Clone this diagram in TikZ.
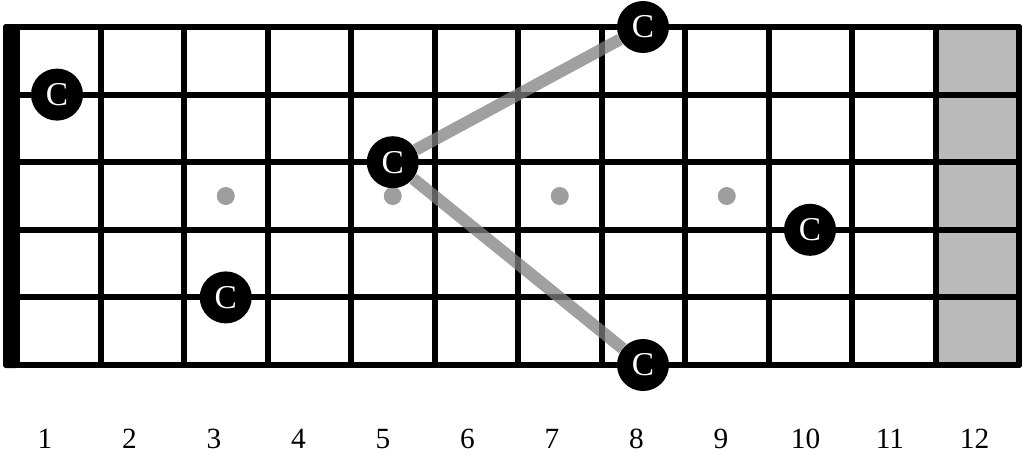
\documentclass[tikz,border=0pt]{standalone}
\usepackage{fontspec}
\setmainfont{Liberation Serif}
\tikzset{
  fretline/.style={line width=4.5pt, line cap=round},
  note/.style={circle, fill=black, text=white, minimum size=39pt, inner sep=0pt,
    font=\fontsize{25}{25}\selectfont},
  marker/.style={circle, fill=black!38, minimum size=13.5pt, inner sep=0pt},
  link/.style={draw=black!50, opacity=.75, line width=9pt},
  fretnum/.style={inner sep=0pt, font=\fontsize{22}{22}\selectfont}
}
\begin{document}
\begin{tikzpicture}[x=0.75pt,y=0.75pt,yscale=-1,xscale=1]
            \useasboundingbox (0,0) rectangle (1024,457);
            \fill[black!27] (933.5,27) rectangle (1019,365);
            \foreach \y in {27,94.6,162.2,229.8,297.4,365}
                \draw[fretline] (17,\y) -- (1019,\y);
            \foreach \i in {1,...,11}
                \draw[fretline] ({17+83.5*\i},27) -- ({17+83.5*\i},365);
            \draw[fretline, line join=round] (17,27) rectangle (1019,365);
            \fill[rounded corners=2pt] (3,24) rectangle (18,368);
            \foreach \f in {3,5,7,9}
                \node[marker] (dot\f) at ({17+83.5*(\f-0.5)},196) {};
            \node[note] (c1) at (57,94.6) {C};
            \node[note] (c3) at (225.75,297.4) {C};
            \node[note] (c5) at (392.75,162.2) {C};
            \node[note] (c8top) at (643,27) {C};
            \node[note] (c8low) at (643,365) {C};
            \node[note] (c10) at (810,229.8) {C};
            \draw[link] (c5) -- (c8top);
            \draw[link] (c5) -- (c8low);
            \foreach \n in {1,...,12}
                \node[fretnum] (num\n) at ({45+84.5*(\n-1)},439) {\n};
        \end{tikzpicture}
\end{document}
